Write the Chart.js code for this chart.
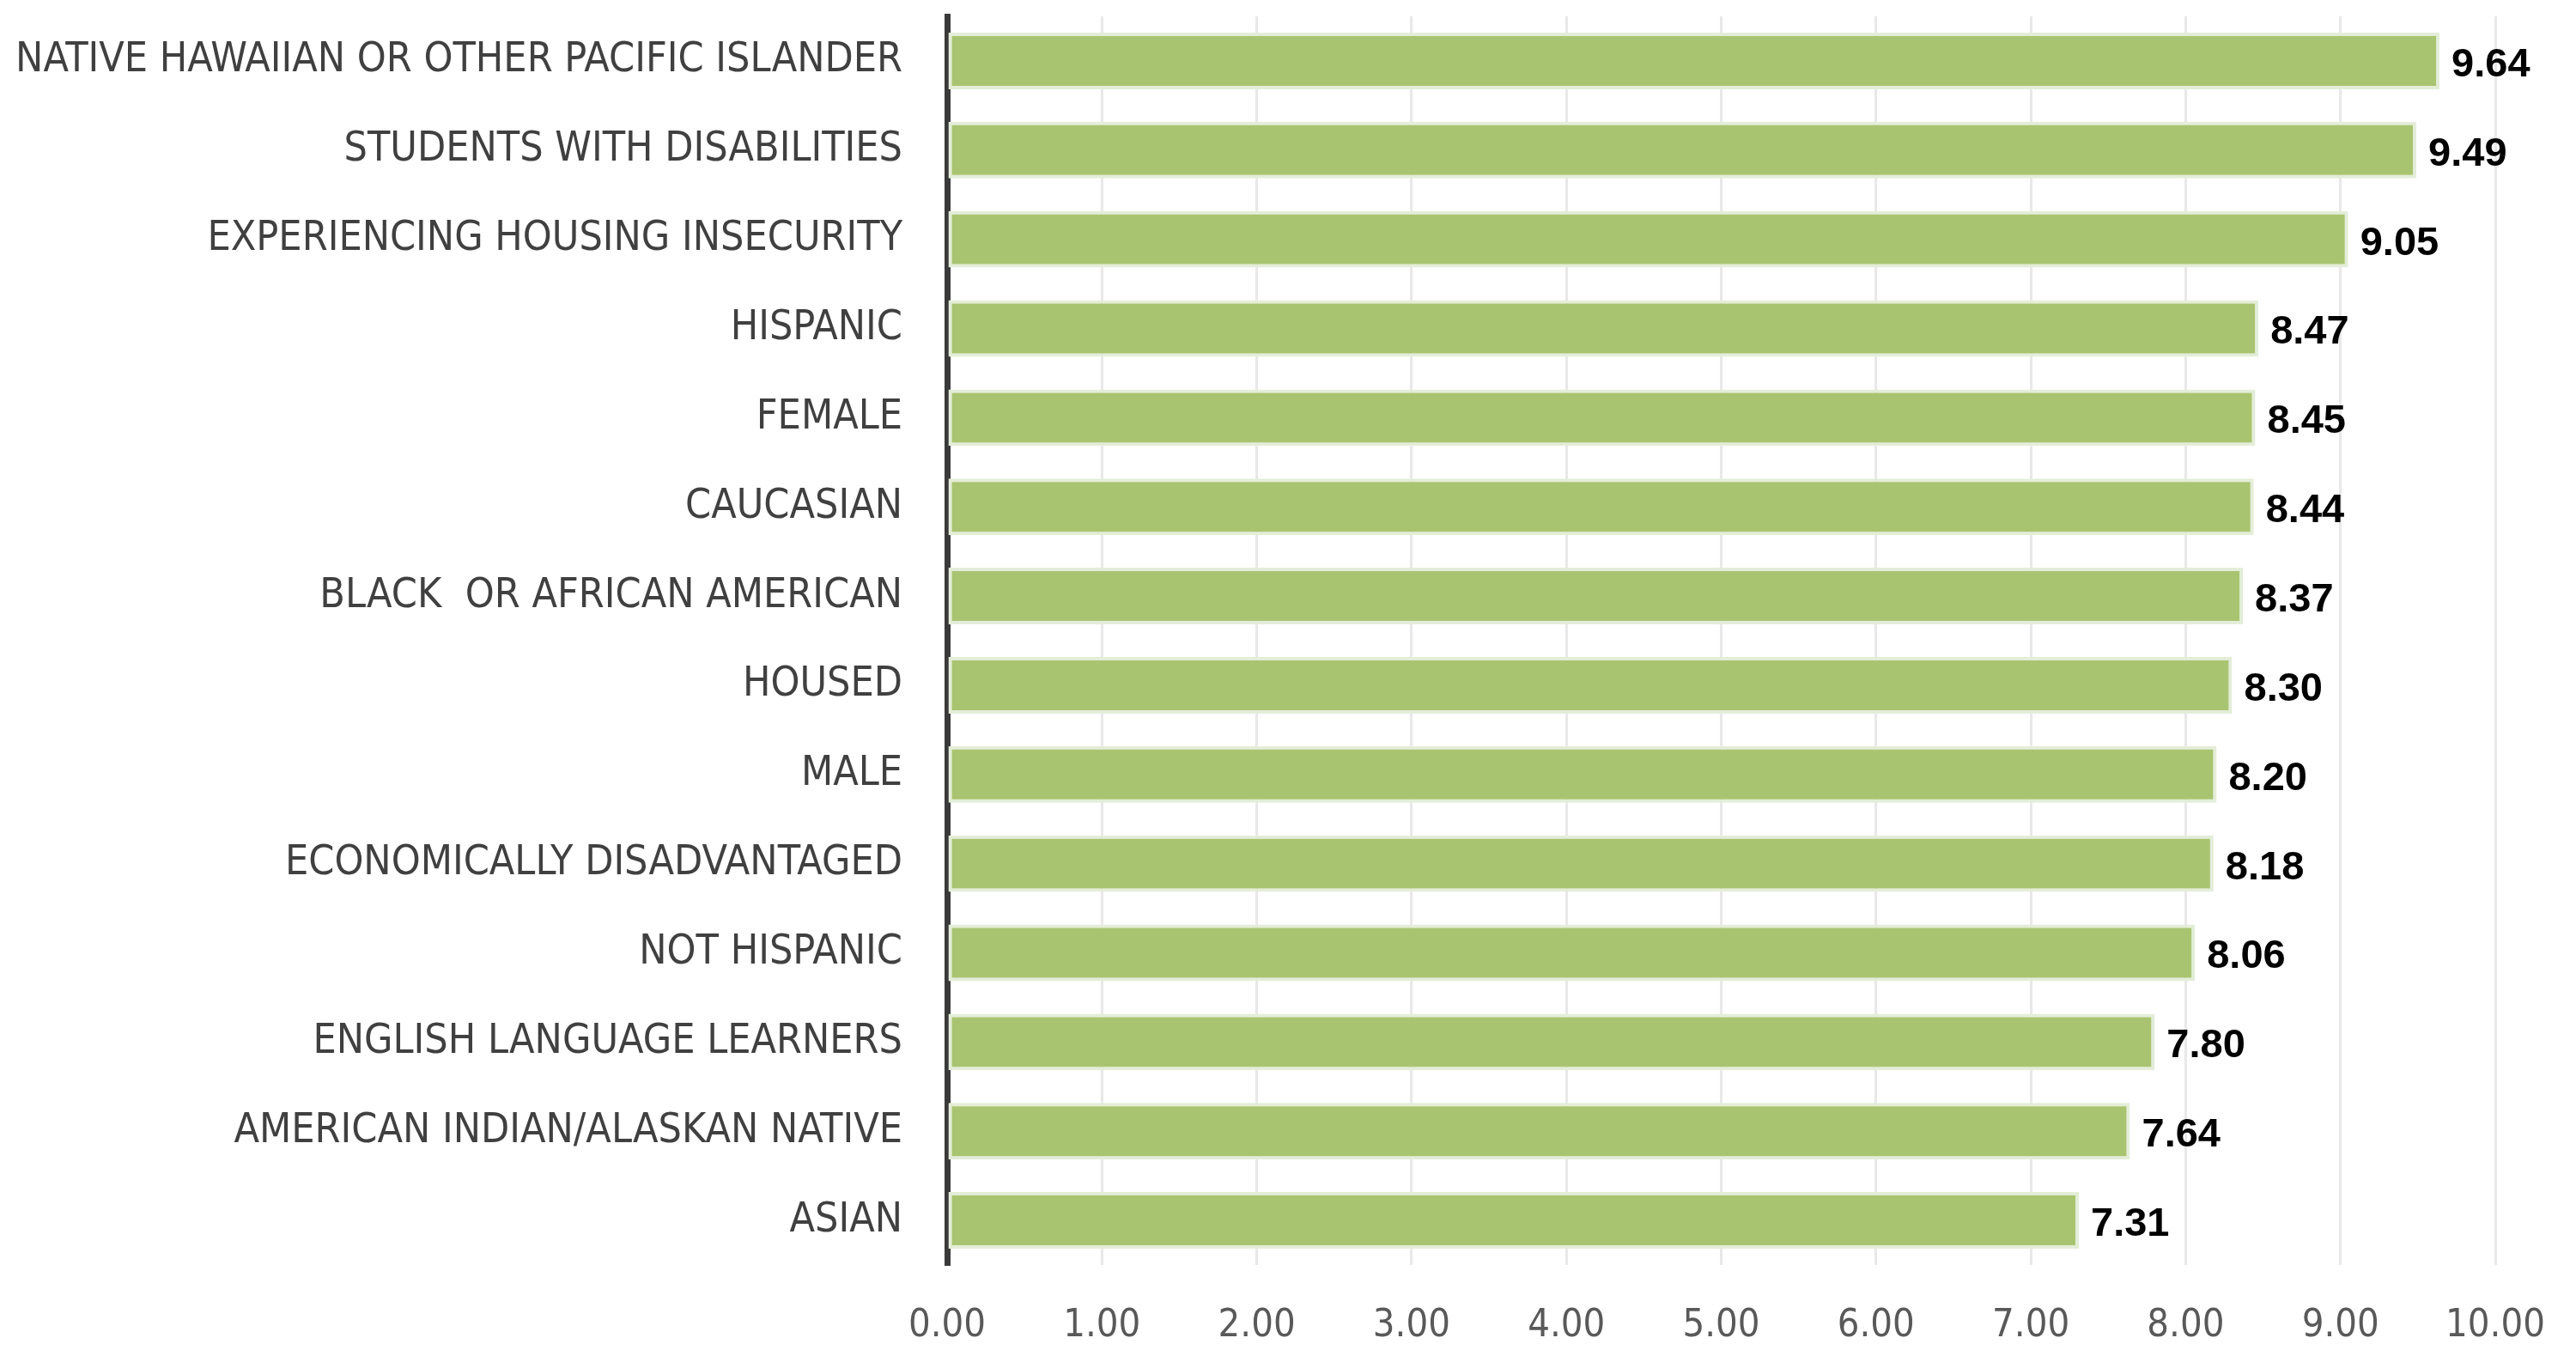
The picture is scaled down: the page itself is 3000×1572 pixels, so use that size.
<!DOCTYPE html>
<html>
<head>
<meta charset="utf-8">
<script src="https://cdn.jsdelivr.net/npm/chart.js@4/dist/chart.umd.min.js"></script>
<style>
  html, body { margin: 0; padding: 0; background: #ffffff; }
  #wrap { width: 3000px; height: 1572px; position: relative; }
</style>
</head>
<body>
<div id="wrap"><canvas id="c" width="3000" height="1572"></canvas></div>
<script>
const categories = [
  "NATIVE HAWAIIAN OR OTHER PACIFIC ISLANDER",
  "STUDENTS WITH DISABILITIES",
  "EXPERIENCING HOUSING INSECURITY",
  "HISPANIC",
  "FEMALE",
  "CAUCASIAN",
  "BLACK  OR AFRICAN AMERICAN",
  "HOUSED",
  "MALE",
  "ECONOMICALLY DISADVANTAGED",
  "NOT HISPANIC",
  "ENGLISH LANGUAGE LEARNERS",
  "AMERICAN INDIAN/ALASKAN NATIVE",
  "ASIAN"
];
const values = [9.64, 9.49, 9.05, 8.47, 8.45, 8.44, 8.37, 8.30, 8.20, 8.18, 8.06, 7.80, 7.64, 7.31];
const xTicks = [0, 1, 2, 3, 4, 5, 6, 7, 8, 9, 10];

const CAT_FONT = "'Liberation Sans Narrow', 'Arial Narrow', 'DejaVu Sans Condensed', sans-serif";

const dataLabels = {
  id: 'dataLabels',
  afterDatasetsDraw(chart) {
    const ctx = chart.ctx;
    const meta = chart.getDatasetMeta(0);
    ctx.save();
    ctx.font = "bold 47px 'Liberation Sans', Arial, sans-serif";
    ctx.fillStyle = '#000000';
    ctx.textAlign = 'left';
    ctx.textBaseline = 'middle';
    meta.data.forEach((bar, i) => {
      ctx.fillText(values[i].toFixed(2), bar.x + 14, bar.y + 5);
    });
    ctx.restore();
  }
};

new Chart(document.getElementById('c'), {
  type: 'bar',
  data: {
    labels: categories,
    datasets: [{
      data: values,
      backgroundColor: '#A9C470',
      borderColor: '#E3EDD8',
      borderWidth: 4,
      borderSkipped: false,
      barPercentage: 0.635,
      categoryPercentage: 1.0
    }]
  },
  options: {
    indexAxis: 'y',
    responsive: false,
    animation: false,
    layout: { padding: { left: 0, right: 94, top: 19, bottom: 0 } },
    plugins: {
      legend: { display: false },
      tooltip: { enabled: false }
    },
    scales: {
      x: {
        min: 0,
        max: 10,
        afterBuildTicks(scale) { scale.ticks = xTicks.map(v => ({ value: v })); },
        afterFit(scale) {
          scale.height = 99;
          scale.paddingLeft = 0;
          scale.paddingRight = 0;
        },
        grid: { color: '#E8E8E8', lineWidth: 3, drawTicks: false },
        border: { display: false },
        ticks: {
          padding: 44,
          color: '#595959',
          font: { family: CAT_FONT, size: 45 },
          callback: (v) => Number(v).toFixed(2)
        }
      },
      y: {
        afterFit(scale) {
          scale.width = 1103;
          scale.paddingTop = 0;
          scale.paddingBottom = 0;
        },
        grid: { display: false, drawTicks: false },
        border: { display: true, color: '#3A3A3A', width: 7 },
        ticks: {
          padding: 52,
          color: '#404040',
          font: { family: CAT_FONT, size: 48 }
        }
      }
    }
  },
  plugins: [dataLabels]
});
</script>
</body>
</html>
